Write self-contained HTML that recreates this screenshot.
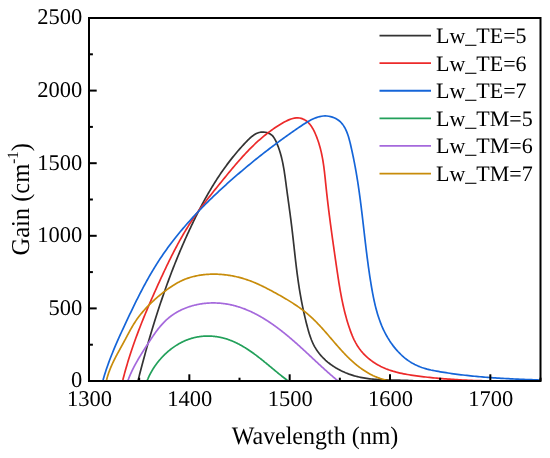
<!DOCTYPE html>
<html><head><meta charset="utf-8"><style>
html,body{margin:0;padding:0;background:#fff;width:550px;height:458px;overflow:hidden}
svg{display:block;will-change:transform}
text{font-family:"Liberation Serif",serif;fill:#000;text-rendering:geometricPrecision}
</style></head><body>
<svg width="550" height="458" viewBox="0 0 550 458">
<defs><clipPath id="pc"><rect x="89.0" y="18.0" width="451.5" height="364.0"/></clipPath></defs>
<g fill="none" stroke-width="1.7" stroke-linejoin="round" stroke-linecap="butt" clip-path="url(#pc)">
<path d="M137.43,382.50 L138.41,379.12 L138.80,377.60 L139.18,376.09 L139.57,374.58 L139.96,373.06 L140.35,371.55 L140.75,370.03 L141.14,368.52 L141.54,367.01 L141.94,365.49 L142.34,363.98 L142.75,362.47 L143.15,360.96 L143.56,359.44 L143.97,357.93 L144.38,356.42 L144.80,354.91 L145.21,353.40 L145.63,351.89 L146.05,350.38 L146.47,348.87 L146.90,347.36 L147.33,345.85 L147.76,344.34 L148.19,342.83 L148.62,341.32 L149.06,339.82 L149.50,338.31 L149.94,336.80 L150.38,335.30 L150.83,333.79 L151.28,332.29 L151.73,330.78 L152.18,329.28 L152.64,327.78 L153.09,326.28 L153.55,324.77 L154.02,323.27 L154.48,321.77 L154.95,320.27 L155.42,318.78 L155.89,317.28 L156.37,315.78 L156.85,314.28 L157.33,312.79 L157.81,311.29 L158.30,309.80 L158.79,308.31 L159.28,306.82 L159.77,305.32 L160.27,303.83 L160.77,302.34 L161.27,300.86 L161.78,299.37 L162.29,297.88 L162.80,296.40 L163.31,294.91 L163.83,293.43 L164.35,291.95 L164.87,290.46 L165.40,288.98 L165.92,287.51 L166.46,286.03 L166.99,284.55 L167.53,283.07 L168.07,281.60 L168.61,280.13 L169.16,278.65 L169.71,277.18 L170.26,275.71 L170.82,274.25 L171.37,272.78 L171.94,271.31 L172.50,269.85 L173.07,268.38 L173.64,266.92 L174.22,265.46 L174.79,264.00 L175.38,262.54 L175.96,261.09 L176.55,259.63 L177.14,258.18 L177.73,256.73 L178.33,255.28 L178.93,253.83 L179.54,252.38 L180.14,250.93 L180.76,249.49 L181.37,248.05 L181.99,246.61 L182.61,245.17 L183.24,243.73 L183.86,242.29 L184.50,240.86 L185.13,239.42 L185.77,237.99 L186.41,236.56 L187.06,235.14 L187.71,233.71 L188.36,232.28 L189.02,230.86 L189.68,229.44 L190.35,228.02 L191.01,226.60 L191.69,225.19 L192.36,223.78 L193.04,222.36 L193.73,220.95 L194.41,219.55 L195.10,218.14 L195.80,216.74 L196.50,215.34 L197.20,213.94 L197.91,212.54 L198.62,211.14 L199.34,209.75 L200.06,208.36 L200.79,206.98 L201.52,205.59 L202.25,204.21 L202.99,202.83 L203.74,201.45 L204.49,200.08 L205.25,198.71 L206.01,197.34 L206.78,195.98 L207.55,194.62 L208.33,193.26 L209.12,191.91 L209.91,190.56 L210.71,189.21 L211.51,187.87 L212.33,186.53 L213.14,185.19 L213.97,183.86 L214.80,182.53 L215.64,181.20 L216.48,179.88 L217.33,178.57 L218.19,177.26 L219.06,175.95 L219.93,174.64 L220.81,173.34 L221.70,172.05 L222.60,170.76 L223.50,169.47 L224.41,168.19 L225.33,166.92 L226.26,165.65 L227.20,164.38 L228.14,163.12 L229.10,161.86 L230.06,160.61 L231.03,159.36 L232.01,158.12 L233.00,156.89 L233.99,155.66 L235.00,154.43 L236.02,153.21 L237.04,152.00 L238.08,150.79 L239.12,149.59 L240.17,148.39 L241.24,147.20 L242.31,146.02 L243.39,144.84 L244.49,143.67 L245.59,142.50 L246.71,141.34 L247.83,140.19 L248.97,139.07 L250.13,137.99 L251.32,136.95 L252.53,135.98 L253.77,135.09 L255.04,134.28 L256.36,133.58 L257.71,133.00 L259.11,132.54 L260.56,132.22 L262.05,132.06 L263.61,132.06 L265.20,132.24 L266.79,132.59 L268.35,133.11 L269.83,133.80 L271.18,134.66 L272.39,135.68 L273.41,136.86 L274.30,138.16 L275.07,139.54 L275.77,140.97 L276.43,142.42 L277.06,143.87 L277.66,145.34 L278.23,146.81 L278.77,148.29 L279.28,149.78 L279.77,151.27 L280.23,152.77 L280.66,154.28 L281.08,155.80 L281.47,157.32 L281.84,158.85 L282.20,160.38 L282.53,161.91 L282.85,163.45 L283.15,165.00 L283.44,166.54 L283.71,168.10 L283.98,169.65 L284.23,171.21 L284.47,172.76 L284.70,174.32 L284.93,175.88 L285.15,177.45 L285.36,179.01 L285.57,180.57 L285.78,182.13 L285.99,183.70 L286.19,185.26 L286.40,186.82 L286.61,188.38 L286.82,189.93 L287.03,191.49 L287.24,193.04 L287.45,194.60 L287.66,196.15 L287.88,197.70 L288.09,199.25 L288.30,200.80 L288.52,202.36 L288.73,203.91 L288.94,205.45 L289.15,207.00 L289.36,208.55 L289.57,210.10 L289.78,211.65 L289.99,213.20 L290.20,214.75 L290.40,216.31 L290.61,217.86 L290.81,219.41 L291.01,220.96 L291.21,222.52 L291.40,224.07 L291.59,225.63 L291.78,227.19 L291.97,228.75 L292.16,230.31 L292.34,231.87 L292.52,233.43 L292.70,234.99 L292.88,236.56 L293.06,238.12 L293.23,239.69 L293.41,241.25 L293.58,242.82 L293.76,244.38 L293.93,245.95 L294.10,247.52 L294.28,249.09 L294.45,250.65 L294.63,252.22 L294.80,253.79 L294.98,255.35 L295.15,256.92 L295.33,258.48 L295.51,260.05 L295.69,261.61 L295.88,263.17 L296.06,264.74 L296.25,266.30 L296.44,267.86 L296.63,269.42 L296.83,270.98 L297.03,272.53 L297.23,274.09 L297.44,275.64 L297.65,277.19 L297.86,278.75 L298.08,280.29 L298.30,281.84 L298.53,283.39 L298.76,284.93 L298.99,286.47 L299.23,288.01 L299.48,289.55 L299.73,291.08 L299.99,292.61 L300.25,294.15 L300.52,295.68 L300.79,297.21 L301.07,298.74 L301.36,300.26 L301.65,301.79 L301.95,303.32 L302.25,304.85 L302.56,306.37 L302.87,307.90 L303.20,309.43 L303.53,310.96 L303.86,312.49 L304.21,314.02 L304.55,315.55 L304.91,317.08 L305.27,318.61 L305.65,320.15 L306.02,321.69 L306.41,323.23 L306.80,324.77 L307.20,326.31 L307.61,327.86 L308.03,329.40 L308.47,330.95 L308.92,332.49 L309.38,334.02 L309.88,335.54 L310.39,337.05 L310.93,338.54 L311.50,340.02 L312.11,341.48 L312.74,342.92 L313.42,344.34 L314.13,345.73 L314.89,347.09 L315.69,348.42 L316.52,349.73 L317.39,351.01 L318.30,352.27 L319.25,353.50 L320.23,354.69 L321.24,355.87 L322.29,357.01 L323.37,358.12 L324.48,359.21 L325.61,360.27 L326.78,361.30 L327.97,362.31 L329.19,363.28 L330.44,364.23 L331.70,365.14 L332.99,366.03 L334.31,366.89 L335.64,367.73 L337.00,368.53 L338.37,369.30 L339.76,370.04 L341.17,370.76 L342.59,371.44 L344.03,372.10 L345.48,372.73 L346.94,373.32 L348.41,373.89 L349.90,374.43 L351.39,374.93 L352.89,375.41 L354.40,375.86 L355.92,376.27 L357.44,376.66 L358.96,377.02 L360.49,377.35 L362.03,377.65 L363.57,377.93 L365.11,378.19 L366.66,378.42 L368.21,378.64 L369.77,378.83 L371.33,379.00 L372.89,379.16 L374.45,379.30 L376.02,379.42 L377.59,379.53 L379.16,379.62 L380.74,379.71 L382.31,379.78 L383.89,379.84 L385.46,379.90 L387.04,379.95 L388.62,379.99 L390.20,380.03 L391.78,380.06 L393.36,380.09 L394.94,380.12 L396.52,380.15 L398.10,380.18 L399.67,380.21 L401.25,380.25 L402.82,380.29 L404.39,380.34 L405.96,380.39 L407.53,380.45 L409.10,380.53 L410.66,380.61 L412.22,380.70 L413.78,380.81 L415.33,380.93 L416.88,381.06 L418.42,381.21 L419.97,381.38 L423.95,381.78" stroke="#333333"/>
<path d="M121.99,382.50 L123.01,379.27 L123.47,377.46 L123.95,375.66 L124.43,373.85 L124.92,372.06 L125.42,370.27 L125.93,368.48 L126.44,366.69 L126.97,364.91 L127.50,363.13 L128.04,361.35 L128.58,359.58 L129.14,357.81 L129.70,356.05 L130.26,354.28 L130.84,352.53 L131.42,350.77 L132.01,349.02 L132.60,347.26 L133.20,345.52 L133.81,343.77 L134.43,342.03 L135.05,340.29 L135.68,338.55 L136.31,336.82 L136.95,335.09 L137.59,333.36 L138.24,331.63 L138.90,329.91 L139.56,328.18 L140.23,326.46 L140.90,324.74 L141.58,323.03 L142.26,321.31 L142.95,319.60 L143.64,317.89 L144.34,316.18 L145.04,314.47 L145.75,312.77 L146.46,311.06 L147.17,309.36 L147.89,307.66 L148.62,305.96 L149.34,304.26 L150.07,302.56 L150.81,300.87 L151.55,299.17 L152.29,297.48 L153.04,295.79 L153.79,294.10 L154.54,292.41 L155.29,290.72 L156.05,289.03 L156.81,287.34 L157.58,285.65 L158.34,283.97 L159.11,282.28 L159.88,280.59 L160.66,278.91 L161.44,277.22 L162.22,275.54 L163.00,273.86 L163.78,272.17 L164.57,270.49 L165.37,268.81 L166.17,267.14 L166.97,265.46 L167.77,263.79 L168.58,262.12 L169.40,260.45 L170.22,258.79 L171.05,257.13 L171.88,255.47 L172.72,253.81 L173.56,252.16 L174.42,250.51 L175.27,248.87 L176.14,247.23 L177.01,245.59 L177.89,243.96 L178.78,242.33 L179.67,240.71 L180.57,239.10 L181.49,237.49 L182.41,235.88 L183.33,234.28 L184.27,232.69 L185.22,231.10 L186.18,229.52 L187.14,227.94 L188.12,226.38 L189.11,224.82 L190.10,223.26 L191.11,221.72 L192.13,220.18 L193.16,218.64 L194.20,217.12 L195.25,215.60 L196.31,214.09 L197.38,212.59 L198.46,211.09 L199.54,209.59 L200.64,208.11 L201.74,206.62 L202.85,205.15 L203.97,203.67 L205.09,202.21 L206.22,200.74 L207.35,199.28 L208.49,197.82 L209.64,196.37 L210.79,194.92 L211.94,193.47 L213.10,192.02 L214.25,190.58 L215.42,189.13 L216.58,187.69 L217.75,186.25 L218.92,184.81 L220.09,183.37 L221.26,181.93 L222.43,180.49 L223.60,179.06 L224.77,177.62 L225.95,176.18 L227.12,174.74 L228.30,173.31 L229.48,171.88 L230.66,170.45 L231.85,169.03 L233.04,167.61 L234.24,166.19 L235.44,164.78 L236.65,163.37 L237.86,161.97 L239.08,160.58 L240.31,159.19 L241.54,157.81 L242.79,156.44 L244.04,155.08 L245.29,153.72 L246.56,152.37 L247.84,151.04 L249.13,149.71 L250.43,148.39 L251.74,147.09 L253.06,145.79 L254.39,144.51 L255.74,143.24 L257.10,141.98 L258.47,140.74 L259.85,139.51 L261.25,138.29 L262.67,137.09 L264.10,135.91 L265.55,134.73 L267.01,133.58 L268.49,132.44 L269.98,131.32 L271.49,130.22 L273.03,129.13 L274.57,128.07 L276.14,127.02 L277.73,125.99 L279.34,124.98 L280.97,123.99 L282.61,123.03 L284.28,122.09 L285.97,121.19 L287.66,120.37 L289.36,119.62 L291.07,118.98 L292.78,118.47 L294.48,118.09 L296.17,117.88 L297.85,117.85 L299.51,118.01 L301.15,118.36 L302.74,118.90 L304.28,119.61 L305.75,120.50 L307.15,121.54 L308.45,122.74 L309.67,124.07 L310.80,125.52 L311.86,127.08 L312.85,128.72 L313.77,130.43 L314.62,132.20 L315.43,134.00 L316.19,135.81 L316.90,137.63 L317.57,139.45 L318.20,141.26 L318.79,143.08 L319.35,144.90 L319.87,146.71 L320.36,148.53 L320.82,150.35 L321.25,152.16 L321.65,153.98 L322.02,155.80 L322.37,157.61 L322.70,159.43 L323.01,161.25 L323.29,163.07 L323.56,164.89 L323.82,166.71 L324.06,168.53 L324.28,170.35 L324.50,172.17 L324.70,173.99 L324.90,175.81 L325.09,177.64 L325.28,179.46 L325.47,181.29 L325.65,183.11 L325.84,184.94 L326.03,186.77 L326.22,188.60 L326.42,190.43 L326.62,192.26 L326.82,194.10 L327.02,195.93 L327.23,197.77 L327.44,199.60 L327.66,201.44 L327.88,203.28 L328.10,205.12 L328.32,206.96 L328.54,208.80 L328.77,210.64 L329.00,212.48 L329.23,214.32 L329.47,216.16 L329.71,218.01 L329.95,219.85 L330.19,221.69 L330.43,223.53 L330.68,225.38 L330.92,227.22 L331.17,229.06 L331.42,230.91 L331.68,232.75 L331.93,234.59 L332.18,236.44 L332.44,238.28 L332.70,240.12 L332.96,241.96 L333.22,243.80 L333.48,245.64 L333.74,247.48 L334.00,249.32 L334.26,251.16 L334.53,253.00 L334.79,254.84 L335.06,256.67 L335.32,258.51 L335.59,260.34 L335.86,262.18 L336.12,264.01 L336.39,265.84 L336.65,267.67 L336.92,269.50 L337.19,271.33 L337.46,273.15 L337.73,274.98 L338.01,276.80 L338.28,278.62 L338.57,280.44 L338.85,282.26 L339.15,284.08 L339.44,285.90 L339.75,287.72 L340.06,289.53 L340.37,291.35 L340.70,293.16 L341.03,294.97 L341.38,296.78 L341.73,298.59 L342.09,300.39 L342.47,302.20 L342.85,304.00 L343.25,305.80 L343.66,307.60 L344.09,309.40 L344.52,311.20 L344.97,313.00 L345.44,314.79 L345.92,316.59 L346.42,318.38 L346.93,320.17 L347.46,321.96 L348.01,323.75 L348.58,325.53 L349.17,327.32 L349.77,329.10 L350.40,330.87 L351.06,332.63 L351.75,334.38 L352.46,336.12 L353.21,337.84 L354.00,339.53 L354.83,341.20 L355.70,342.84 L356.61,344.45 L357.57,346.03 L358.58,347.56 L359.64,349.06 L360.76,350.52 L361.92,351.93 L363.14,353.31 L364.40,354.64 L365.70,355.92 L367.05,357.17 L368.44,358.37 L369.87,359.53 L371.34,360.65 L372.84,361.72 L374.37,362.75 L375.93,363.73 L377.52,364.67 L379.14,365.57 L380.79,366.43 L382.45,367.24 L384.14,368.00 L385.84,368.72 L387.57,369.40 L389.30,370.03 L391.05,370.62 L392.82,371.18 L394.60,371.69 L396.38,372.18 L398.18,372.63 L399.99,373.05 L401.81,373.44 L403.63,373.81 L405.46,374.15 L407.30,374.48 L409.14,374.78 L410.98,375.07 L412.82,375.35 L414.67,375.61 L416.52,375.87 L418.37,376.11 L420.21,376.35 L422.06,376.58 L423.90,376.80 L425.75,377.02 L427.59,377.23 L429.44,377.43 L431.28,377.63 L433.13,377.81 L434.97,378.00 L436.81,378.17 L438.66,378.34 L440.50,378.50 L442.34,378.66 L444.19,378.81 L446.03,378.95 L447.87,379.09 L449.72,379.22 L451.56,379.35 L453.40,379.47 L455.25,379.59 L457.09,379.70 L458.94,379.80 L460.78,379.91 L462.62,380.00 L464.47,380.09 L466.31,380.18 L468.16,380.26 L470.00,380.34 L471.85,380.41 L473.69,380.48 L475.54,380.55 L477.39,380.61 L479.23,380.67 L481.08,380.72 L482.93,380.77 L484.78,380.82 L486.62,380.86 L488.47,380.91 L490.32,380.94 L492.17,380.98 L494.03,381.01 L495.88,381.04 L497.73,381.07 L499.58,381.09 L501.44,381.11 L503.29,381.13 L505.15,381.15 L507.01,381.17 L508.86,381.18 L510.72,381.19 L512.58,381.21 L514.44,381.21 L516.30,381.22 L518.16,381.23 L520.03,381.24 L524.03,381.25" stroke="#ec2a2a"/>
<path d="M102.10,382.50 L103.25,379.23 L103.79,377.39 L104.35,375.55 L104.91,373.72 L105.50,371.90 L106.09,370.08 L106.70,368.27 L107.33,366.47 L107.96,364.67 L108.61,362.87 L109.27,361.08 L109.94,359.30 L110.62,357.52 L111.31,355.74 L112.02,353.97 L112.73,352.21 L113.45,350.44 L114.18,348.68 L114.92,346.93 L115.66,345.18 L116.42,343.43 L117.18,341.68 L117.94,339.94 L118.72,338.20 L119.50,336.46 L120.28,334.72 L121.07,332.98 L121.86,331.25 L122.66,329.52 L123.46,327.79 L124.27,326.06 L125.07,324.33 L125.88,322.61 L126.69,320.88 L127.51,319.15 L128.32,317.43 L129.14,315.70 L129.96,313.98 L130.78,312.26 L131.61,310.53 L132.44,308.81 L133.27,307.10 L134.10,305.38 L134.94,303.67 L135.79,301.95 L136.64,300.24 L137.49,298.54 L138.35,296.83 L139.21,295.13 L140.08,293.43 L140.95,291.74 L141.84,290.05 L142.72,288.36 L143.62,286.68 L144.52,285.00 L145.43,283.32 L146.34,281.65 L147.26,279.98 L148.19,278.32 L149.13,276.67 L150.08,275.01 L151.04,273.37 L152.00,271.73 L152.98,270.09 L153.96,268.46 L154.96,266.84 L155.96,265.22 L156.97,263.61 L158.00,262.01 L159.03,260.41 L160.08,258.82 L161.14,257.23 L162.21,255.66 L163.29,254.09 L164.37,252.52 L165.47,250.97 L166.58,249.42 L167.70,247.87 L168.83,246.34 L169.97,244.81 L171.12,243.28 L172.28,241.77 L173.44,240.26 L174.62,238.75 L175.80,237.25 L177.00,235.76 L178.20,234.28 L179.41,232.80 L180.63,231.33 L181.86,229.86 L183.09,228.40 L184.33,226.95 L185.58,225.50 L186.84,224.06 L188.11,222.62 L189.38,221.19 L190.66,219.77 L191.95,218.35 L193.24,216.94 L194.54,215.53 L195.85,214.13 L197.16,212.74 L198.48,211.35 L199.81,209.97 L201.14,208.59 L202.48,207.22 L203.82,205.86 L205.17,204.50 L206.52,203.14 L207.88,201.80 L209.25,200.45 L210.61,199.12 L211.99,197.78 L213.37,196.46 L214.75,195.14 L216.14,193.82 L217.53,192.51 L218.92,191.21 L220.32,189.91 L221.73,188.61 L223.13,187.33 L224.54,186.04 L225.96,184.76 L227.37,183.49 L228.79,182.22 L230.21,180.96 L231.64,179.70 L233.07,178.45 L234.50,177.20 L235.93,175.96 L237.36,174.72 L238.80,173.49 L240.24,172.26 L241.68,171.03 L243.12,169.81 L244.56,168.60 L246.01,167.39 L247.46,166.18 L248.92,164.98 L250.37,163.78 L251.83,162.59 L253.30,161.40 L254.76,160.21 L256.23,159.03 L257.71,157.85 L259.19,156.68 L260.67,155.51 L262.16,154.34 L263.65,153.17 L265.14,152.01 L266.64,150.85 L268.15,149.70 L269.66,148.54 L271.18,147.39 L272.70,146.25 L274.22,145.10 L275.76,143.96 L277.29,142.82 L278.84,141.68 L280.39,140.54 L281.94,139.41 L283.51,138.28 L285.08,137.15 L286.65,136.02 L288.23,134.89 L289.82,133.77 L291.42,132.64 L293.02,131.52 L294.64,130.40 L296.25,129.28 L297.88,128.16 L299.52,127.05 L301.16,125.93 L302.81,124.83 L304.47,123.75 L306.14,122.70 L307.81,121.70 L309.50,120.74 L311.20,119.84 L312.90,119.02 L314.62,118.27 L316.35,117.60 L318.08,117.04 L319.83,116.58 L321.59,116.24 L323.37,116.02 L325.15,115.94 L326.94,116.01 L328.75,116.22 L330.55,116.59 L332.33,117.10 L334.07,117.76 L335.74,118.55 L337.34,119.47 L338.83,120.52 L340.21,121.70 L341.47,122.99 L342.62,124.38 L343.68,125.87 L344.65,127.44 L345.53,129.10 L346.33,130.82 L347.06,132.60 L347.74,134.44 L348.35,136.31 L348.92,138.22 L349.45,140.15 L349.95,142.10 L350.42,144.06 L350.87,146.01 L351.31,147.95 L351.74,149.88 L352.16,151.80 L352.57,153.72 L352.97,155.62 L353.37,157.52 L353.75,159.41 L354.12,161.29 L354.48,163.16 L354.84,165.04 L355.19,166.90 L355.52,168.76 L355.86,170.62 L356.18,172.48 L356.50,174.33 L356.81,176.19 L357.11,178.04 L357.41,179.89 L357.70,181.74 L357.99,183.60 L358.27,185.45 L358.54,187.31 L358.81,189.17 L359.08,191.04 L359.34,192.90 L359.60,194.77 L359.85,196.64 L360.10,198.52 L360.35,200.39 L360.59,202.27 L360.83,204.15 L361.07,206.03 L361.30,207.91 L361.53,209.80 L361.76,211.68 L361.99,213.57 L362.21,215.46 L362.44,217.35 L362.66,219.25 L362.88,221.14 L363.10,223.04 L363.32,224.93 L363.54,226.83 L363.76,228.73 L363.98,230.63 L364.19,232.53 L364.41,234.43 L364.63,236.33 L364.85,238.23 L365.08,240.14 L365.30,242.04 L365.53,243.94 L365.75,245.85 L365.98,247.75 L366.21,249.65 L366.44,251.56 L366.68,253.46 L366.92,255.37 L367.16,257.27 L367.41,259.17 L367.66,261.08 L367.91,262.98 L368.16,264.88 L368.42,266.78 L368.69,268.68 L368.96,270.58 L369.23,272.48 L369.51,274.38 L369.80,276.28 L370.09,278.18 L370.39,280.07 L370.69,281.96 L371.00,283.86 L371.31,285.75 L371.63,287.64 L371.96,289.52 L372.30,291.41 L372.65,293.29 L373.01,295.17 L373.38,297.05 L373.76,298.92 L374.16,300.78 L374.57,302.64 L375.00,304.50 L375.45,306.34 L375.92,308.18 L376.41,310.02 L376.91,311.84 L377.44,313.66 L378.00,315.47 L378.58,317.26 L379.18,319.05 L379.81,320.83 L380.47,322.60 L381.16,324.35 L381.87,326.10 L382.62,327.83 L383.40,329.54 L384.22,331.25 L385.06,332.94 L385.95,334.61 L386.87,336.27 L387.83,337.92 L388.83,339.55 L389.86,341.16 L390.94,342.75 L392.06,344.32 L393.21,345.87 L394.40,347.39 L395.63,348.88 L396.90,350.34 L398.20,351.77 L399.54,353.15 L400.91,354.50 L402.32,355.81 L403.76,357.08 L405.23,358.30 L406.74,359.47 L408.28,360.58 L409.85,361.65 L411.46,362.66 L413.09,363.61 L414.76,364.50 L416.46,365.32 L418.18,366.09 L419.93,366.79 L421.71,367.44 L423.51,368.03 L425.33,368.58 L427.16,369.09 L429.02,369.55 L430.88,369.99 L432.76,370.39 L434.64,370.77 L436.53,371.12 L438.42,371.46 L440.32,371.79 L442.22,372.10 L444.11,372.41 L446.01,372.71 L447.90,373.00 L449.80,373.28 L451.69,373.55 L453.58,373.82 L455.48,374.07 L457.37,374.32 L459.27,374.56 L461.16,374.80 L463.05,375.03 L464.95,375.25 L466.84,375.46 L468.74,375.66 L470.63,375.86 L472.52,376.06 L474.42,376.24 L476.31,376.42 L478.21,376.60 L480.10,376.76 L482.00,376.93 L483.89,377.08 L485.79,377.24 L487.68,377.38 L489.58,377.52 L491.48,377.66 L493.37,377.79 L495.27,377.92 L497.17,378.05 L499.07,378.16 L500.97,378.28 L502.87,378.39 L504.77,378.50 L506.67,378.60 L508.57,378.70 L510.47,378.80 L512.37,378.89 L514.28,378.99 L516.18,379.08 L518.09,379.16 L519.99,379.25 L521.90,379.33 L523.80,379.41 L525.71,379.49 L527.62,379.56 L529.53,379.64 L531.44,379.71 L533.36,379.78 L535.27,379.85 L537.18,379.92 L539.10,379.99 L541.01,380.06 L545.01,380.21" stroke="#1565d8"/>
<path d="M145.53,382.50 L146.98,381.15 L147.13,380.75 L147.28,380.35 L147.44,379.95 L147.60,379.55 L147.77,379.15 L147.94,378.76 L148.10,378.36 L148.28,377.96 L148.45,377.57 L148.63,377.17 L148.81,376.78 L148.99,376.38 L149.18,375.99 L149.37,375.60 L149.56,375.20 L149.76,374.81 L149.95,374.42 L150.15,374.03 L150.35,373.65 L150.56,373.26 L150.77,372.87 L150.98,372.49 L151.19,372.10 L151.40,371.72 L151.62,371.33 L151.84,370.95 L152.06,370.57 L152.29,370.19 L152.52,369.81 L152.75,369.43 L152.98,369.06 L153.21,368.68 L153.45,368.31 L153.69,367.94 L153.93,367.56 L154.18,367.19 L154.42,366.82 L154.67,366.45 L154.92,366.09 L155.18,365.72 L155.43,365.36 L155.69,364.99 L155.95,364.63 L156.21,364.27 L156.48,363.91 L156.75,363.55 L157.02,363.20 L157.29,362.84 L157.56,362.49 L157.84,362.14 L158.12,361.79 L158.40,361.44 L158.68,361.09 L158.96,360.74 L159.25,360.40 L159.54,360.06 L159.83,359.71 L160.12,359.37 L160.42,359.04 L160.71,358.70 L161.01,358.37 L161.31,358.03 L161.61,357.70 L161.92,357.37 L162.23,357.04 L162.53,356.72 L162.84,356.39 L163.16,356.07 L163.47,355.75 L163.79,355.43 L164.10,355.12 L164.42,354.80 L164.75,354.49 L165.07,354.18 L165.39,353.87 L165.72,353.56 L166.05,353.26 L166.38,352.95 L166.71,352.65 L167.05,352.35 L167.38,352.06 L167.72,351.76 L168.06,351.47 L168.40,351.18 L168.74,350.89 L169.08,350.61 L169.43,350.32 L169.78,350.04 L170.12,349.76 L170.48,349.48 L170.83,349.21 L171.18,348.94 L171.53,348.67 L171.89,348.40 L172.25,348.13 L172.61,347.87 L172.97,347.61 L173.33,347.35 L173.69,347.10 L174.06,346.84 L174.43,346.59 L174.79,346.34 L175.16,346.10 L175.53,345.85 L175.91,345.61 L176.28,345.37 L176.65,345.14 L177.03,344.91 L177.41,344.68 L177.78,344.45 L178.16,344.22 L178.55,344.00 L178.93,343.78 L179.31,343.56 L179.70,343.35 L180.08,343.14 L180.47,342.93 L180.86,342.72 L181.25,342.52 L181.64,342.32 L182.03,342.12 L182.42,341.93 L182.81,341.74 L183.21,341.55 L183.60,341.36 L184.00,341.18 L184.40,341.00 L184.80,340.83 L185.20,340.65 L185.60,340.48 L186.00,340.31 L186.40,340.15 L186.81,339.99 L187.21,339.83 L187.62,339.68 L188.02,339.53 L188.43,339.38 L188.84,339.23 L189.25,339.09 L189.66,338.95 L190.07,338.82 L190.48,338.68 L190.89,338.55 L191.30,338.43 L191.72,338.31 L192.13,338.19 L192.54,338.07 L192.96,337.96 L193.38,337.85 L193.79,337.74 L194.21,337.64 L194.63,337.54 L195.05,337.45 L195.47,337.35 L195.89,337.26 L196.31,337.18 L196.73,337.09 L197.15,337.01 L197.57,336.94 L198.00,336.86 L198.42,336.79 L198.84,336.73 L199.27,336.66 L199.69,336.60 L200.11,336.55 L200.54,336.49 L200.96,336.44 L201.39,336.39 L201.82,336.35 L202.24,336.30 L202.67,336.27 L203.10,336.23 L203.52,336.20 L203.95,336.17 L204.38,336.14 L204.80,336.12 L205.23,336.10 L205.66,336.08 L206.09,336.07 L206.52,336.06 L206.94,336.05 L207.37,336.05 L207.80,336.05 L208.23,336.05 L208.66,336.05 L209.08,336.06 L209.51,336.07 L209.94,336.08 L210.37,336.10 L210.80,336.12 L211.22,336.14 L211.65,336.17 L212.08,336.20 L212.51,336.23 L212.93,336.26 L213.36,336.30 L213.79,336.34 L214.21,336.39 L214.64,336.43 L215.06,336.48 L215.49,336.54 L215.91,336.59 L216.34,336.65 L216.76,336.71 L217.19,336.77 L217.61,336.84 L218.04,336.91 L218.46,336.99 L218.88,337.06 L219.30,337.14 L219.72,337.22 L220.15,337.31 L220.57,337.39 L220.99,337.48 L221.41,337.58 L221.82,337.67 L222.24,337.77 L222.66,337.87 L223.08,337.98 L223.49,338.09 L223.91,338.20 L224.32,338.31 L224.74,338.43 L225.15,338.54 L225.56,338.67 L225.98,338.79 L226.39,338.92 L226.80,339.05 L227.21,339.18 L227.62,339.32 L228.02,339.45 L228.43,339.59 L228.84,339.74 L229.24,339.88 L229.65,340.03 L230.05,340.18 L230.45,340.34 L230.86,340.49 L231.26,340.65 L231.66,340.81 L232.06,340.98 L232.46,341.14 L232.86,341.31 L233.26,341.48 L233.65,341.66 L234.05,341.83 L234.45,342.01 L234.84,342.19 L235.23,342.37 L235.63,342.56 L236.02,342.74 L236.41,342.93 L236.80,343.12 L237.20,343.32 L237.59,343.51 L237.97,343.71 L238.36,343.91 L238.75,344.11 L239.14,344.32 L239.52,344.52 L239.91,344.73 L240.30,344.94 L240.68,345.15 L241.06,345.36 L241.45,345.58 L241.83,345.80 L242.21,346.02 L242.59,346.24 L242.97,346.46 L243.35,346.68 L243.73,346.91 L244.11,347.14 L244.49,347.36 L244.87,347.60 L245.24,347.83 L245.62,348.06 L245.99,348.30 L246.37,348.53 L246.74,348.77 L247.11,349.01 L247.49,349.25 L247.86,349.50 L248.23,349.74 L248.60,349.99 L248.97,350.23 L249.34,350.48 L249.71,350.73 L250.08,350.98 L250.45,351.24 L250.82,351.49 L251.18,351.74 L251.55,352.00 L251.91,352.26 L252.28,352.52 L252.64,352.78 L253.01,353.04 L253.37,353.30 L253.73,353.56 L254.10,353.82 L254.46,354.09 L254.82,354.35 L255.18,354.62 L255.54,354.89 L255.90,355.15 L256.26,355.42 L256.62,355.69 L256.98,355.96 L257.33,356.24 L257.69,356.51 L258.05,356.78 L258.40,357.05 L258.76,357.33 L259.11,357.60 L259.47,357.88 L259.82,358.16 L260.18,358.43 L260.53,358.71 L260.88,358.99 L261.23,359.27 L261.58,359.55 L261.94,359.82 L262.29,360.10 L262.64,360.38 L262.99,360.67 L263.33,360.95 L263.68,361.23 L264.03,361.51 L264.38,361.79 L264.73,362.07 L265.07,362.36 L265.42,362.64 L265.77,362.92 L266.11,363.20 L266.46,363.49 L266.80,363.77 L267.15,364.05 L267.49,364.34 L267.83,364.62 L268.18,364.90 L268.52,365.19 L268.86,365.47 L269.20,365.75 L269.55,366.04 L269.89,366.32 L270.23,366.60 L270.57,366.88 L270.91,367.17 L271.25,367.45 L271.59,367.73 L271.93,368.01 L272.27,368.30 L272.60,368.58 L272.94,368.86 L273.28,369.14 L273.62,369.42 L273.95,369.70 L274.29,369.98 L274.62,370.26 L274.96,370.53 L275.30,370.81 L275.63,371.09 L275.97,371.37 L276.30,371.64 L276.63,371.92 L276.97,372.19 L277.30,372.47 L277.63,372.74 L277.97,373.01 L278.30,373.29 L278.63,373.56 L278.96,373.83 L279.30,374.10 L279.63,374.37 L279.96,374.63 L280.29,374.90 L280.62,375.17 L280.95,375.43 L281.28,375.70 L281.61,375.96 L281.94,376.22 L282.27,376.48 L282.60,376.74 L282.93,377.00 L283.25,377.26 L283.58,377.52 L283.91,377.77 L284.24,378.03 L284.57,378.28 L284.89,378.53 L285.22,378.78 L285.55,379.03 L285.87,379.28 L286.20,379.53 L286.53,379.77 L286.85,380.02 L287.18,380.26 L287.50,380.50 L287.83,380.74 L288.15,380.98 L291.37,382.50" stroke="#22a05a"/>
<path d="M127.03,382.50 L128.49,379.08 L128.74,378.43 L128.99,377.80 L129.25,377.16 L129.51,376.52 L129.77,375.89 L130.03,375.26 L130.30,374.64 L130.57,374.02 L130.85,373.39 L131.13,372.78 L131.41,372.16 L131.69,371.54 L131.98,370.93 L132.27,370.32 L132.57,369.71 L132.87,369.11 L133.17,368.50 L133.47,367.90 L133.77,367.30 L134.08,366.70 L134.39,366.11 L134.71,365.51 L135.03,364.92 L135.34,364.32 L135.67,363.73 L135.99,363.14 L136.32,362.56 L136.65,361.97 L136.98,361.38 L137.31,360.80 L137.65,360.21 L137.98,359.63 L138.32,359.05 L138.67,358.47 L139.01,357.89 L139.36,357.31 L139.70,356.73 L140.05,356.15 L140.40,355.57 L140.76,354.99 L141.11,354.42 L141.47,353.84 L141.83,353.26 L142.19,352.69 L142.55,352.11 L142.91,351.53 L143.27,350.96 L143.64,350.38 L144.01,349.80 L144.37,349.23 L144.74,348.65 L145.11,348.07 L145.48,347.49 L145.85,346.92 L146.23,346.34 L146.60,345.76 L146.98,345.18 L147.35,344.60 L147.73,344.01 L148.11,343.43 L148.48,342.85 L148.86,342.27 L149.24,341.68 L149.62,341.10 L150.01,340.51 L150.39,339.93 L150.77,339.35 L151.16,338.76 L151.55,338.18 L151.94,337.60 L152.33,337.02 L152.72,336.44 L153.12,335.86 L153.52,335.29 L153.92,334.71 L154.32,334.14 L154.72,333.57 L155.13,333.00 L155.54,332.43 L155.95,331.87 L156.37,331.31 L156.78,330.75 L157.20,330.19 L157.63,329.64 L158.05,329.09 L158.48,328.55 L158.91,328.00 L159.35,327.47 L159.79,326.93 L160.23,326.40 L160.68,325.87 L161.13,325.35 L161.58,324.83 L162.04,324.32 L162.50,323.81 L162.97,323.31 L163.44,322.81 L163.91,322.32 L164.39,321.83 L164.88,321.35 L165.36,320.87 L165.86,320.40 L166.35,319.94 L166.86,319.48 L167.36,319.03 L167.88,318.58 L168.39,318.15 L168.91,317.71 L169.44,317.29 L169.97,316.87 L170.51,316.46 L171.05,316.05 L171.59,315.65 L172.14,315.26 L172.69,314.87 L173.25,314.49 L173.81,314.12 L174.38,313.75 L174.94,313.39 L175.52,313.03 L176.09,312.68 L176.68,312.34 L177.26,312.00 L177.85,311.67 L178.44,311.35 L179.04,311.03 L179.64,310.72 L180.24,310.42 L180.84,310.12 L181.45,309.83 L182.06,309.54 L182.68,309.26 L183.30,308.99 L183.92,308.72 L184.54,308.46 L185.17,308.20 L185.80,307.96 L186.43,307.71 L187.07,307.48 L187.71,307.25 L188.35,307.02 L188.99,306.80 L189.64,306.59 L190.28,306.39 L190.93,306.19 L191.59,305.99 L192.24,305.80 L192.90,305.62 L193.55,305.45 L194.21,305.28 L194.88,305.11 L195.54,304.96 L196.21,304.80 L196.87,304.66 L197.54,304.52 L198.21,304.39 L198.88,304.26 L199.56,304.14 L200.23,304.02 L200.91,303.91 L201.58,303.81 L202.26,303.71 L202.94,303.62 L203.62,303.53 L204.30,303.45 L204.98,303.38 L205.66,303.31 L206.34,303.25 L207.03,303.19 L207.71,303.14 L208.40,303.09 L209.08,303.05 L209.77,303.02 L210.45,302.99 L211.14,302.97 L211.82,302.96 L212.51,302.95 L213.19,302.94 L213.88,302.94 L214.57,302.95 L215.25,302.96 L215.94,302.98 L216.62,303.00 L217.31,303.03 L217.99,303.07 L218.67,303.11 L219.36,303.16 L220.04,303.21 L220.72,303.27 L221.40,303.33 L222.08,303.40 L222.76,303.48 L223.44,303.56 L224.11,303.64 L224.79,303.73 L225.46,303.83 L226.14,303.93 L226.81,304.04 L227.48,304.16 L228.15,304.28 L228.81,304.40 L229.48,304.53 L230.15,304.67 L230.81,304.81 L231.47,304.95 L232.13,305.11 L232.79,305.26 L233.45,305.42 L234.10,305.59 L234.76,305.76 L235.41,305.94 L236.07,306.12 L236.72,306.31 L237.37,306.50 L238.01,306.70 L238.66,306.90 L239.31,307.10 L239.95,307.31 L240.59,307.53 L241.24,307.75 L241.88,307.97 L242.51,308.20 L243.15,308.43 L243.79,308.67 L244.42,308.91 L245.05,309.16 L245.69,309.41 L246.32,309.67 L246.95,309.92 L247.57,310.19 L248.20,310.46 L248.82,310.73 L249.45,311.00 L250.07,311.28 L250.69,311.56 L251.31,311.85 L251.93,312.14 L252.55,312.44 L253.16,312.74 L253.77,313.04 L254.39,313.34 L255.00,313.65 L255.61,313.97 L256.22,314.28 L256.82,314.60 L257.43,314.93 L258.03,315.25 L258.64,315.58 L259.24,315.92 L259.84,316.25 L260.44,316.59 L261.04,316.94 L261.63,317.28 L262.23,317.63 L262.82,317.99 L263.41,318.34 L264.00,318.70 L264.59,319.06 L265.18,319.42 L265.77,319.79 L266.35,320.16 L266.94,320.53 L267.52,320.91 L268.10,321.29 L268.68,321.67 L269.26,322.05 L269.84,322.43 L270.41,322.82 L270.99,323.21 L271.56,323.61 L272.13,324.00 L272.70,324.40 L273.27,324.80 L273.84,325.20 L274.41,325.60 L274.97,326.01 L275.54,326.42 L276.10,326.83 L276.66,327.24 L277.22,327.65 L277.78,328.07 L278.34,328.48 L278.89,328.90 L279.45,329.33 L280.00,329.75 L280.55,330.17 L281.10,330.60 L281.65,331.03 L282.20,331.46 L282.74,331.89 L283.29,332.32 L283.83,332.75 L284.38,333.19 L284.92,333.62 L285.46,334.06 L285.99,334.50 L286.53,334.94 L287.07,335.38 L287.60,335.82 L288.13,336.26 L288.67,336.71 L289.20,337.15 L289.72,337.60 L290.25,338.05 L290.78,338.49 L291.30,338.94 L291.83,339.39 L292.35,339.84 L292.87,340.29 L293.39,340.74 L293.91,341.19 L294.42,341.64 L294.94,342.10 L295.45,342.55 L295.97,343.00 L296.48,343.46 L296.99,343.91 L297.50,344.36 L298.01,344.82 L298.51,345.27 L299.02,345.73 L299.52,346.18 L300.03,346.64 L300.53,347.10 L301.03,347.55 L301.53,348.01 L302.03,348.46 L302.53,348.92 L303.03,349.38 L303.53,349.84 L304.03,350.29 L304.52,350.75 L305.02,351.21 L305.51,351.67 L306.01,352.13 L306.50,352.58 L307.00,353.04 L307.49,353.50 L307.98,353.96 L308.47,354.42 L308.97,354.88 L309.46,355.34 L309.95,355.80 L310.44,356.25 L310.93,356.71 L311.43,357.17 L311.92,357.63 L312.41,358.09 L312.90,358.55 L313.39,359.01 L313.88,359.47 L314.38,359.93 L314.87,360.39 L315.36,360.85 L315.85,361.31 L316.35,361.77 L316.84,362.23 L317.34,362.68 L317.83,363.14 L318.33,363.60 L318.82,364.06 L319.32,364.52 L319.81,364.98 L320.31,365.44 L320.81,365.90 L321.31,366.35 L321.81,366.81 L322.31,367.27 L322.81,367.73 L323.31,368.18 L323.82,368.64 L324.32,369.10 L324.83,369.56 L325.33,370.01 L325.84,370.47 L326.35,370.92 L326.86,371.38 L327.37,371.84 L327.88,372.29 L328.40,372.75 L328.91,373.20 L329.43,373.65 L329.95,374.11 L330.47,374.56 L330.99,375.02 L331.51,375.47 L332.03,375.92 L332.56,376.37 L333.09,376.83 L333.62,377.28 L334.15,377.73 L334.68,378.18 L335.22,378.63 L335.75,379.08 L336.29,379.53 L336.83,379.98 L337.37,380.43 L337.92,380.87 L338.47,381.32 L341.56,382.50" stroke="#a569dc"/>
<path d="M105.73,382.50 L106.78,379.19 L107.02,378.27 L107.27,377.36 L107.53,376.45 L107.81,375.54 L108.09,374.64 L108.39,373.75 L108.69,372.85 L109.00,371.96 L109.33,371.08 L109.66,370.20 L110.00,369.32 L110.35,368.44 L110.71,367.57 L111.08,366.70 L111.46,365.84 L111.84,364.97 L112.23,364.11 L112.62,363.26 L113.02,362.40 L113.43,361.55 L113.84,360.70 L114.26,359.85 L114.69,359.01 L115.11,358.16 L115.55,357.32 L115.98,356.48 L116.42,355.64 L116.87,354.81 L117.31,353.97 L117.76,353.14 L118.21,352.30 L118.66,351.47 L119.12,350.64 L119.58,349.81 L120.03,348.98 L120.49,348.15 L120.95,347.32 L121.40,346.50 L121.86,345.67 L122.32,344.84 L122.77,344.01 L123.23,343.18 L123.68,342.36 L124.13,341.53 L124.58,340.70 L125.03,339.87 L125.47,339.04 L125.91,338.21 L126.35,337.38 L126.79,336.55 L127.23,335.72 L127.67,334.89 L128.11,334.07 L128.56,333.24 L129.00,332.42 L129.45,331.59 L129.89,330.77 L130.35,329.95 L130.80,329.14 L131.26,328.32 L131.72,327.51 L132.19,326.70 L132.67,325.90 L133.15,325.10 L133.63,324.30 L134.13,323.50 L134.63,322.71 L135.13,321.93 L135.65,321.14 L136.17,320.37 L136.71,319.59 L137.25,318.83 L137.80,318.06 L138.35,317.30 L138.92,316.55 L139.49,315.80 L140.07,315.06 L140.66,314.32 L141.25,313.58 L141.86,312.85 L142.46,312.13 L143.08,311.40 L143.70,310.69 L144.33,309.98 L144.96,309.27 L145.60,308.57 L146.25,307.87 L146.90,307.17 L147.56,306.49 L148.22,305.80 L148.89,305.12 L149.57,304.45 L150.25,303.78 L150.93,303.11 L151.62,302.45 L152.32,301.80 L153.01,301.14 L153.72,300.50 L154.42,299.86 L155.14,299.22 L155.85,298.59 L156.57,297.96 L157.29,297.33 L158.02,296.72 L158.75,296.10 L159.48,295.49 L160.22,294.89 L160.95,294.29 L161.69,293.69 L162.44,293.10 L163.18,292.52 L163.93,291.94 L164.68,291.36 L165.44,290.79 L166.19,290.23 L166.95,289.66 L167.71,289.11 L168.47,288.56 L169.24,288.02 L170.00,287.48 L170.78,286.95 L171.55,286.43 L172.33,285.92 L173.11,285.41 L173.90,284.92 L174.69,284.43 L175.49,283.95 L176.29,283.48 L177.10,283.02 L177.91,282.58 L178.72,282.14 L179.55,281.71 L180.37,281.30 L181.21,280.89 L182.05,280.50 L182.90,280.13 L183.75,279.76 L184.61,279.41 L185.47,279.06 L186.34,278.74 L187.22,278.42 L188.10,278.11 L188.98,277.82 L189.88,277.54 L190.77,277.27 L191.67,277.01 L192.58,276.77 L193.49,276.53 L194.40,276.31 L195.32,276.10 L196.24,275.90 L197.17,275.71 L198.10,275.53 L199.03,275.36 L199.97,275.21 L200.91,275.06 L201.85,274.93 L202.79,274.81 L203.74,274.69 L204.69,274.59 L205.64,274.50 L206.60,274.42 L207.55,274.35 L208.51,274.29 L209.47,274.24 L210.43,274.20 L211.40,274.18 L212.36,274.16 L213.33,274.15 L214.29,274.15 L215.26,274.16 L216.23,274.18 L217.19,274.21 L218.16,274.25 L219.13,274.30 L220.10,274.36 L221.07,274.43 L222.03,274.51 L223.00,274.59 L223.97,274.69 L224.93,274.80 L225.89,274.91 L226.86,275.03 L227.82,275.17 L228.78,275.31 L229.74,275.46 L230.69,275.62 L231.65,275.78 L232.60,275.96 L233.55,276.14 L234.49,276.34 L235.44,276.54 L236.38,276.75 L237.32,276.96 L238.25,277.19 L239.18,277.42 L240.11,277.66 L241.04,277.91 L241.96,278.17 L242.88,278.43 L243.79,278.70 L244.70,278.98 L245.60,279.27 L246.50,279.57 L247.40,279.87 L248.29,280.18 L249.17,280.49 L250.05,280.81 L250.93,281.14 L251.80,281.48 L252.67,281.82 L253.53,282.17 L254.39,282.53 L255.25,282.89 L256.10,283.25 L256.95,283.62 L257.80,284.00 L258.64,284.38 L259.48,284.77 L260.32,285.16 L261.16,285.56 L262.00,285.96 L262.83,286.37 L263.66,286.78 L264.49,287.19 L265.32,287.61 L266.14,288.03 L266.97,288.45 L267.79,288.88 L268.62,289.31 L269.44,289.74 L270.27,290.18 L271.09,290.62 L271.91,291.06 L272.74,291.50 L273.56,291.95 L274.38,292.40 L275.21,292.85 L276.03,293.30 L276.86,293.75 L277.68,294.21 L278.51,294.66 L279.33,295.12 L280.16,295.59 L280.98,296.05 L281.80,296.52 L282.63,296.99 L283.45,297.46 L284.27,297.94 L285.09,298.42 L285.90,298.90 L286.72,299.39 L287.54,299.88 L288.35,300.37 L289.16,300.87 L289.97,301.37 L290.77,301.87 L291.58,302.38 L292.38,302.89 L293.18,303.41 L293.98,303.92 L294.77,304.45 L295.56,304.98 L296.35,305.51 L297.13,306.04 L297.91,306.58 L298.69,307.13 L299.46,307.68 L300.23,308.23 L301.00,308.79 L301.76,309.36 L302.51,309.93 L303.27,310.50 L304.02,311.08 L304.76,311.67 L305.50,312.26 L306.23,312.85 L306.96,313.45 L307.69,314.06 L308.40,314.67 L309.12,315.29 L309.82,315.92 L310.53,316.55 L311.22,317.18 L311.92,317.82 L312.60,318.47 L313.29,319.12 L313.97,319.77 L314.64,320.43 L315.31,321.10 L315.98,321.77 L316.64,322.44 L317.30,323.11 L317.95,323.79 L318.60,324.48 L319.25,325.16 L319.90,325.85 L320.54,326.55 L321.18,327.24 L321.82,327.94 L322.45,328.64 L323.08,329.34 L323.72,330.05 L324.34,330.76 L324.97,331.47 L325.59,332.18 L326.22,332.89 L326.84,333.60 L327.46,334.32 L328.08,335.04 L328.70,335.75 L329.32,336.47 L329.93,337.19 L330.55,337.91 L331.17,338.62 L331.78,339.34 L332.40,340.06 L333.02,340.78 L333.63,341.50 L334.25,342.21 L334.87,342.93 L335.49,343.65 L336.11,344.36 L336.73,345.07 L337.35,345.78 L337.97,346.49 L338.60,347.20 L339.22,347.91 L339.85,348.61 L340.48,349.31 L341.11,350.01 L341.75,350.71 L342.38,351.40 L343.02,352.09 L343.67,352.78 L344.31,353.46 L344.96,354.14 L345.61,354.82 L346.27,355.49 L346.92,356.16 L347.59,356.82 L348.25,357.48 L348.92,358.14 L349.60,358.79 L350.27,359.44 L350.96,360.08 L351.64,360.71 L352.34,361.34 L353.03,361.97 L353.73,362.59 L354.44,363.20 L355.15,363.81 L355.87,364.41 L356.59,365.01 L357.32,365.59 L358.06,366.18 L358.80,366.75 L359.55,367.32 L360.30,367.88 L361.06,368.43 L361.83,368.98 L362.60,369.51 L363.38,370.04 L364.16,370.56 L364.96,371.08 L365.75,371.58 L366.55,372.07 L367.36,372.55 L368.18,373.03 L369.00,373.49 L369.82,373.94 L370.66,374.39 L371.49,374.82 L372.34,375.24 L373.18,375.65 L374.04,376.04 L374.90,376.43 L375.76,376.80 L376.63,377.16 L377.51,377.51 L378.39,377.84 L379.28,378.16 L380.17,378.47 L381.06,378.76 L381.97,379.04 L382.87,379.30 L383.78,379.55 L384.70,379.79 L385.62,380.01 L386.55,380.21 L387.48,380.40 L388.42,380.57 L389.36,380.72 L390.30,380.86 L391.25,380.99 L392.21,381.09 L393.17,381.18 L394.13,381.25 L395.10,381.30 L399.09,381.59" stroke="#c88c0a"/>
</g>
<g stroke="#000" stroke-width="2" fill="none">
<rect x="89.0" y="18.0" width="451.5" height="363.0"/>
<line x1="89.0" y1="381.00" x2="96.70" y2="381.00"/>
<line x1="89.0" y1="344.70" x2="92.90" y2="344.70"/>
<line x1="89.0" y1="308.40" x2="96.70" y2="308.40"/>
<line x1="89.0" y1="272.10" x2="92.90" y2="272.10"/>
<line x1="89.0" y1="235.80" x2="96.70" y2="235.80"/>
<line x1="89.0" y1="199.50" x2="92.90" y2="199.50"/>
<line x1="89.0" y1="163.20" x2="96.70" y2="163.20"/>
<line x1="89.0" y1="126.90" x2="92.90" y2="126.90"/>
<line x1="89.0" y1="90.60" x2="96.70" y2="90.60"/>
<line x1="89.0" y1="54.30" x2="92.90" y2="54.30"/>
<line x1="89.0" y1="18.00" x2="96.70" y2="18.00"/>
<line x1="89.00" y1="381.0" x2="89.00" y2="374.30"/>
<line x1="139.17" y1="381.0" x2="139.17" y2="377.70"/>
<line x1="189.33" y1="381.0" x2="189.33" y2="374.30"/>
<line x1="239.50" y1="381.0" x2="239.50" y2="377.70"/>
<line x1="289.67" y1="381.0" x2="289.67" y2="374.30"/>
<line x1="339.83" y1="381.0" x2="339.83" y2="377.70"/>
<line x1="390.00" y1="381.0" x2="390.00" y2="374.30"/>
<line x1="440.17" y1="381.0" x2="440.17" y2="377.70"/>
<line x1="490.33" y1="381.0" x2="490.33" y2="374.30"/>
<line x1="540.50" y1="381.0" x2="540.50" y2="377.70"/>
</g>
<g font-size="22.5px">
<text x="82.2" y="387.30" text-anchor="end">0</text>
<text x="82.2" y="314.70" text-anchor="end">500</text>
<text x="82.2" y="242.10" text-anchor="end">1000</text>
<text x="82.2" y="169.50" text-anchor="end">1500</text>
<text x="82.2" y="96.90" text-anchor="end">2000</text>
<text x="82.2" y="24.30" text-anchor="end">2500</text>
<text x="89.50" y="406.3" text-anchor="middle">1300</text>
<text x="189.83" y="406.3" text-anchor="middle">1400</text>
<text x="290.17" y="406.3" text-anchor="middle">1500</text>
<text x="390.50" y="406.3" text-anchor="middle">1600</text>
<text x="490.83" y="406.3" text-anchor="middle">1700</text>
</g>
<g fill="none" stroke-width="1.8">
<line x1="379.5" y1="35.55" x2="431" y2="35.55" stroke="#333333"/>
<line x1="379.5" y1="63.15" x2="431" y2="63.15" stroke="#ec2a2a"/>
<line x1="379.5" y1="90.75" x2="431" y2="90.75" stroke="#1565d8"/>
<line x1="379.5" y1="118.35" x2="431" y2="118.35" stroke="#22a05a"/>
<line x1="379.5" y1="145.95" x2="431" y2="145.95" stroke="#a569dc"/>
<line x1="379.5" y1="173.55" x2="431" y2="173.55" stroke="#c88c0a"/>
</g>
<g font-size="22px">
<text x="436.0" y="42.95">Lw_TE=5</text>
<text x="436.0" y="70.55">Lw_TE=6</text>
<text x="436.0" y="98.15">Lw_TE=7</text>
<text x="436.0" y="125.75">Lw_TM=5</text>
<text x="436.0" y="153.35">Lw_TM=6</text>
<text x="436.0" y="180.95">Lw_TM=7</text>
</g>
<text font-size="24px" transform="translate(315,444) scale(1,1.05)" text-anchor="middle">Wavelength (nm)</text>
<text font-size="24.5px" transform="translate(28.5,199.3) rotate(-90) scale(1,1.05)" text-anchor="middle">Gain (cm<tspan font-size="15px" dy="-10">-1</tspan><tspan dy="10">)</tspan></text>
</svg>
</body></html>
